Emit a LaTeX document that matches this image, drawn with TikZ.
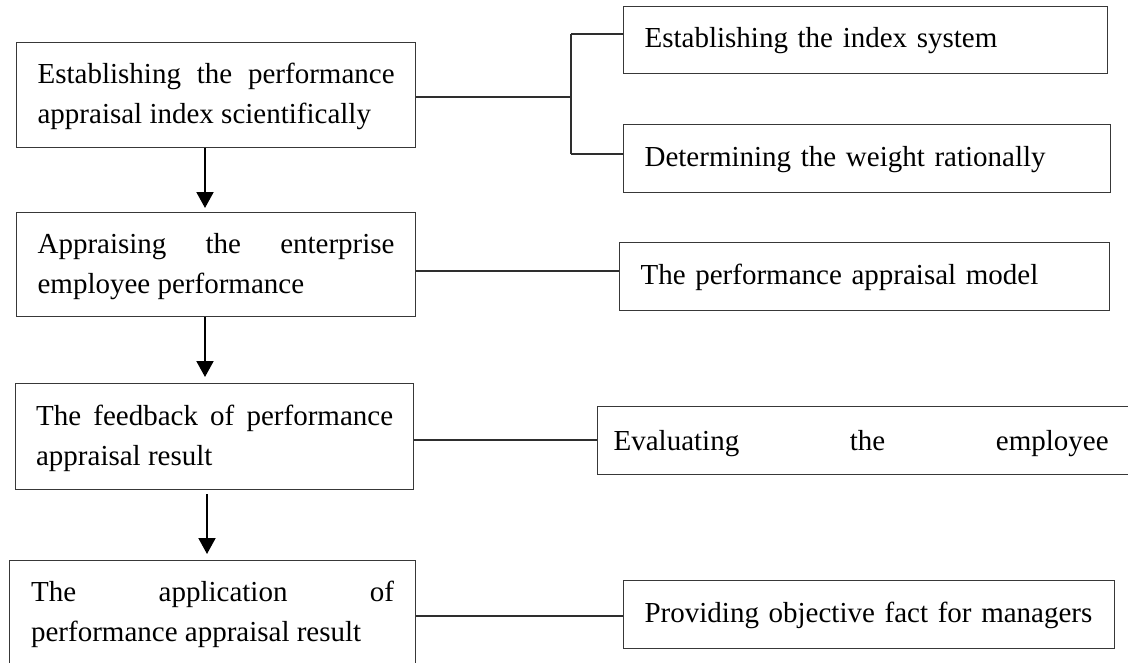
\documentclass[tikz,border=0pt]{standalone}
\usepackage{fontspec}
\setmainfont{Liberation Serif}
\usetikzlibrary{arrows.meta}
\definecolor{boxgray}{gray}{0.22}
\definecolor{linegray}{gray}{0.18}
\begin{document}
\begin{tikzpicture}[x=1pt,y=-1pt,
  box/.style={draw=boxgray, line width=1.2pt, inner xsep=0pt, inner ysep=0pt,
    anchor=north west, font=\fontsize{29}{40}\selectfont},
  twoline/.style={box, align=justify, text height=20pt, text depth=43pt, minimum height=105pt},
  oneline/.style={box, align=left, text height=20pt, text depth=5pt, minimum height=68pt},
  link/.style={draw=linegray, line width=1.2pt},
  flow/.style={draw=black, line width=2pt, -{Triangle[width=17pt,length=16pt]}}]
\useasboundingbox (0,0) rectangle (1128,662);
\clip (0,0) rectangle (1128,662);
% left column
\node[twoline, minimum width=399pt, text width=357pt] (b1) at (16,42)
  {Establishing the performance\linebreak appraisal index scientifically};
\node[twoline, minimum width=399pt, text width=357pt, minimum height=104pt] (b2) at (16,212)
  {Appraising the enterprise\linebreak employee performance};
\node[twoline, minimum width=398pt, text width=357pt, minimum height=106pt] (b3) at (15,383)
  {The feedback of performance\linebreak appraisal result};
\node[twoline, minimum width=406pt, text width=363pt] (b4) at (9,560)
  {The application of\linebreak performance appraisal result};
% right column
\node[oneline, minimum width=484pt, text width=442pt, minimum height=67pt] (r1) at (623,6)
  {Establishing the index system};
\node[oneline, minimum width=487pt, text width=445pt] (r2) at (623,124)
  {Determining the weight rationally};
\node[oneline, minimum width=490pt, text width=448pt] (r3) at (619,242)
  {The performance appraisal model};
\node[box, align=left, text height=24pt, text depth=5pt, minimum height=68pt,
  text width=560pt] (r4) at (597,406)
  {\leavevmode\kern16pt Evaluating\hskip 7pt plus 1fill the\hskip 7pt plus 1fill employee\kern49pt};
\node[oneline, minimum width=491pt, text width=449pt] (r5) at (623,580)
  {Providing objective fact for managers};
% bracket connector
\coordinate (bm) at (571,97);
\coordinate (bt) at (571,34);
\coordinate (bb) at (571,154);
\draw[link] (b1.east |- bm) -- (bm);
\draw[link] (bt) -- (bb);
\draw[link] (bt) -- (bt -| r1.west);
\draw[link] (bb) -- (bb -| r2.west);
% straight connectors
\coordinate (c2) at (0,271);
\coordinate (c3) at (0,440);
\coordinate (c4) at (0,616);
\draw[link] (b2.east |- c2) -- (r3.west |- c2);
\draw[link] (b3.east |- c3) -- (r4.west |- c3);
\draw[link] (b4.east |- c4) -- (r5.west |- c4);
% flow arrows
\coordinate (a1) at (205,0);
\coordinate (a2) at (205,0);
\coordinate (a3) at (207,0);
\draw[flow, shorten >=4pt] (b1.south -| a1) -- (b2.north -| a1);
\draw[flow, shorten >=6pt] (b2.south -| a2) -- (b3.north -| a2);
\draw[flow, shorten <=4pt, shorten >=6pt] (b3.south -| a3) -- (b4.north -| a3);
\end{tikzpicture}
\end{document}
